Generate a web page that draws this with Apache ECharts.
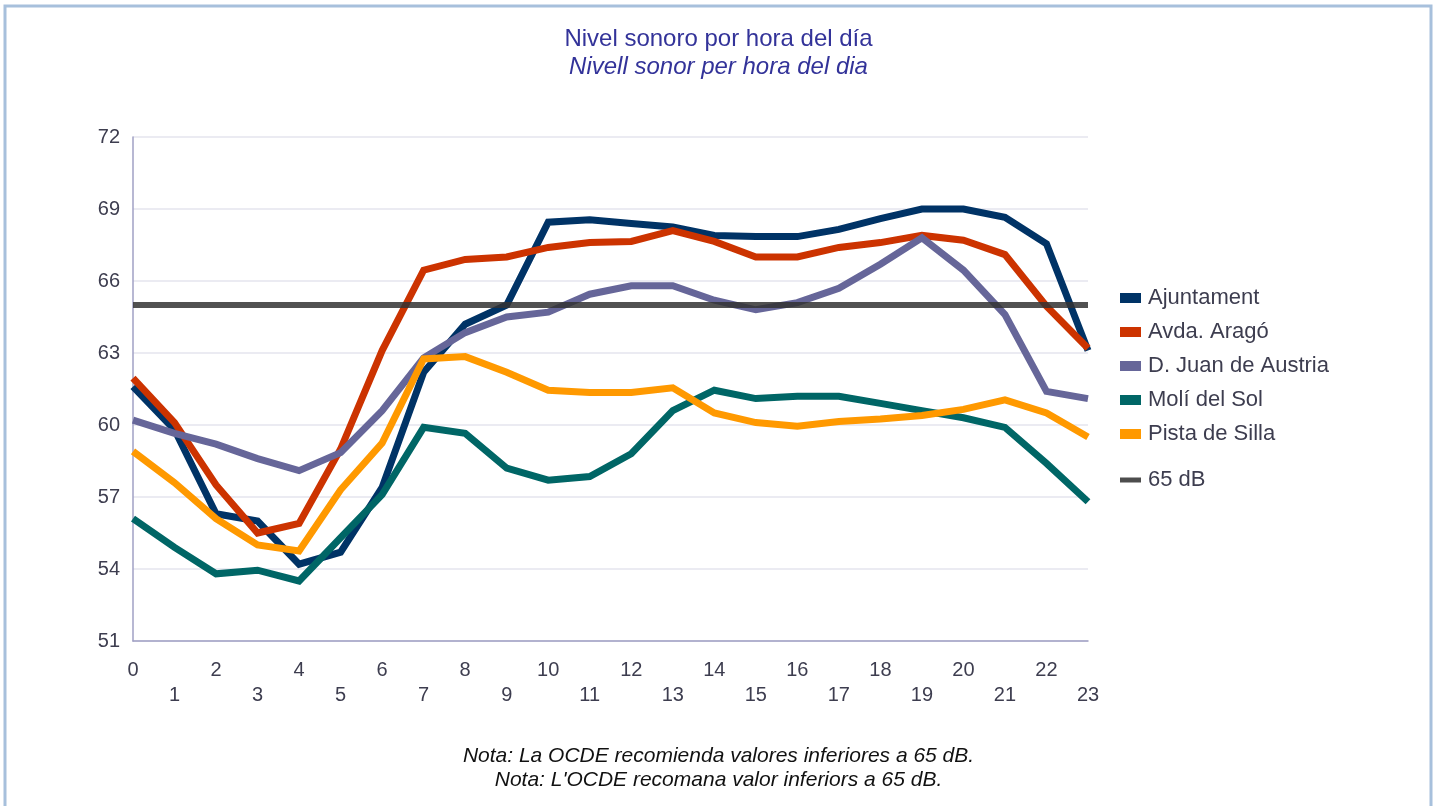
<!DOCTYPE html>
<html>
<head>
<meta charset="utf-8">
<title>Nivel sonoro por hora del día</title>
<script src="https://cdn.jsdelivr.net/npm/echarts@6/dist/echarts.min.js"></script>
<style>
  html, body { margin: 0; padding: 0; background: #ffffff; }
  #chart { width: 1437px; height: 806px; }
</style>
</head>
<body>
<div id="chart"></div>
<script>
// Hours of the day (x axis categories)
const hours = ['0','1','2','3','4','5','6','7','8','9','10','11','12','13','14','15','16','17','18','19','20','21','22','23'];

// Y axis scale
const yMin = 51;
const yMax = 72;
const yStep = 3;

// Mean sound level (dB) per hour at each station
const ajuntament = [61.6, 59.8, 56.3, 56.0, 54.2, 54.7, 57.4, 62.2, 64.2, 65.0, 68.45, 68.55, 68.4, 68.25, 67.9, 67.85, 67.85, 68.15, 68.6, 69.0, 69.0, 68.65, 67.55, 63.1];
const avdaArago = [61.95, 60.1, 57.5, 55.5, 55.9, 59.0, 63.1, 66.45, 66.9, 67.0, 67.4, 67.6, 67.65, 68.1, 67.65, 67.0, 67.0, 67.4, 67.6, 67.9, 67.7, 67.1, 64.95, 63.2];
const dJuanAustria = [60.2, 59.65, 59.2, 58.6, 58.1, 58.85, 60.6, 62.8, 63.85, 64.5, 64.7, 65.45, 65.8, 65.8, 65.2, 64.8, 65.1, 65.7, 66.7, 67.8, 66.45, 64.6, 61.4, 61.1];
const moliSol = [56.1, 54.9, 53.8, 53.95, 53.5, 55.3, 57.1, 59.9, 59.65, 58.2, 57.7, 57.85, 58.8, 60.6, 61.45, 61.1, 61.2, 61.2, 60.9, 60.6, 60.3, 59.9, 58.4, 56.8];
const pistaSilla = [58.9, 57.6, 56.1, 55.0, 54.75, 57.3, 59.25, 62.75, 62.85, 62.2, 61.45, 61.35, 61.35, 61.55, 60.5, 60.1, 59.95, 60.15, 60.25, 60.4, 60.65, 61.05, 60.5, 59.5];

// Recommended limit
const limitDb = 65;
const limitLine = hours.map(() => limitDb);

const stationNames = ['Ajuntament', 'Avda. Aragó', 'D. Juan de Austria', 'Molí del Sol', 'Pista de Silla'];
const stationData = [ajuntament, avdaArago, dJuanAustria, moliSol, pistaSilla];
const stationColors = ['#003366', '#cc3300', '#666699', '#006666', '#ff9900'];
const limitName = '65 dB';

const FONT = 'Liberation Sans, Arial, sans-serif';
const TEXT_COLOR = '#3d3d4f';
const TITLE_COLOR = '#333399';

const chart = echarts.init(document.getElementById('chart'), null, { renderer: 'canvas' });

const lineSeries = stationNames.map((name, i) => ({
  name: name,
  type: 'line',
  data: stationData[i],
  symbol: 'none',
  smooth: false,
  color: stationColors[i],
  lineStyle: { width: 7, color: stationColors[i], cap: 'butt', join: 'miter' },
  emphasis: { disabled: true },
  z: 2 + i
}));

lineSeries.push({
  name: limitName,
  type: 'line',
  data: limitLine,
  symbol: 'none',
  color: '#4d4d4d',
  lineStyle: { width: 6, color: '#333333', opacity: 0.85, cap: 'butt' },
  emphasis: { disabled: true },
  z: 10
});

chart.setOption({
  backgroundColor: '#ffffff',
  animation: false,
  textStyle: { fontFamily: FONT },
  title: [
    {
      text: 'Nivel sonoro por hora del día',
      subtext: 'Nivell sonor per hora del dia',
      left: 'center',
      top: 25,
      padding: 0,
      itemGap: 0,
      textStyle: { fontFamily: FONT, fontSize: 24, fontWeight: 'normal', color: TITLE_COLOR, lineHeight: 28 },
      subtextStyle: { fontFamily: FONT, fontSize: 24, fontStyle: 'italic', color: TITLE_COLOR, lineHeight: 28 }
    },
    {
      text: 'Nota: La OCDE recomienda valores inferiores a 65 dB.',
      subtext: "Nota: L'OCDE recomana valor inferiors a 65 dB.",
      left: 'center',
      top: 744,
      padding: 0,
      itemGap: 0,
      textStyle: { fontFamily: FONT, fontSize: 21, fontWeight: 'normal', fontStyle: 'italic', color: '#111111', lineHeight: 24 },
      subtextStyle: { fontFamily: FONT, fontSize: 21, fontStyle: 'italic', color: '#111111', lineHeight: 24 }
    }
  ],
  graphic: [
    {
      type: 'rect',
      shape: { x: 5, y: 6, width: 1426, height: 900 },
      style: { fill: 'none', stroke: '#a7c0dc', lineWidth: 3 },
      silent: true,
      z: 0
    }
  ],
  legend: [
    {
      data: stationNames,
      orient: 'vertical',
      left: 1120,
      top: 287,
      padding: 0,
      icon: 'rect',
      itemWidth: 21,
      itemHeight: 10,
      itemGap: 12,
      selectedMode: false,
      textStyle: { fontFamily: FONT, fontSize: 22, color: TEXT_COLOR, lineHeight: 22, padding: [0, 0, 0, 2] }
    },
    {
      data: [limitName],
      orient: 'vertical',
      left: 1120,
      top: 469,
      padding: 0,
      icon: 'rect',
      itemWidth: 21,
      itemHeight: 5,
      selectedMode: false,
      textStyle: { fontFamily: FONT, fontSize: 22, color: TEXT_COLOR, lineHeight: 22, padding: [0, 0, 0, 2] }
    }
  ],
  grid: { left: 133, right: 349, top: 137, bottom: 165, containLabel: false },
  xAxis: {
    type: 'category',
    data: hours,
    boundaryGap: false,
    axisLine: { show: true, lineStyle: { color: '#a0a0c4', width: 1.5 } },
    axisTick: { show: false },
    splitLine: { show: false },
    axisLabel: {
      interval: 0,
      margin: 17,
      fontFamily: FONT,
      fontSize: 20,
      color: TEXT_COLOR,
      lineHeight: 25,
      formatter: (v, i) => (i % 2 ? '\n' + v : v)
    }
  },
  yAxis: {
    type: 'value',
    min: yMin,
    max: yMax,
    interval: yStep,
    axisLine: { show: true, lineStyle: { color: '#a0a0c4', width: 1.5 } },
    axisTick: { show: false },
    splitLine: { show: true, lineStyle: { color: '#e4e4ee', width: 1.5 } },
    axisLabel: { margin: 13, fontFamily: FONT, fontSize: 20, color: TEXT_COLOR }
  },
  series: lineSeries
});
</script>
</body>
</html>
